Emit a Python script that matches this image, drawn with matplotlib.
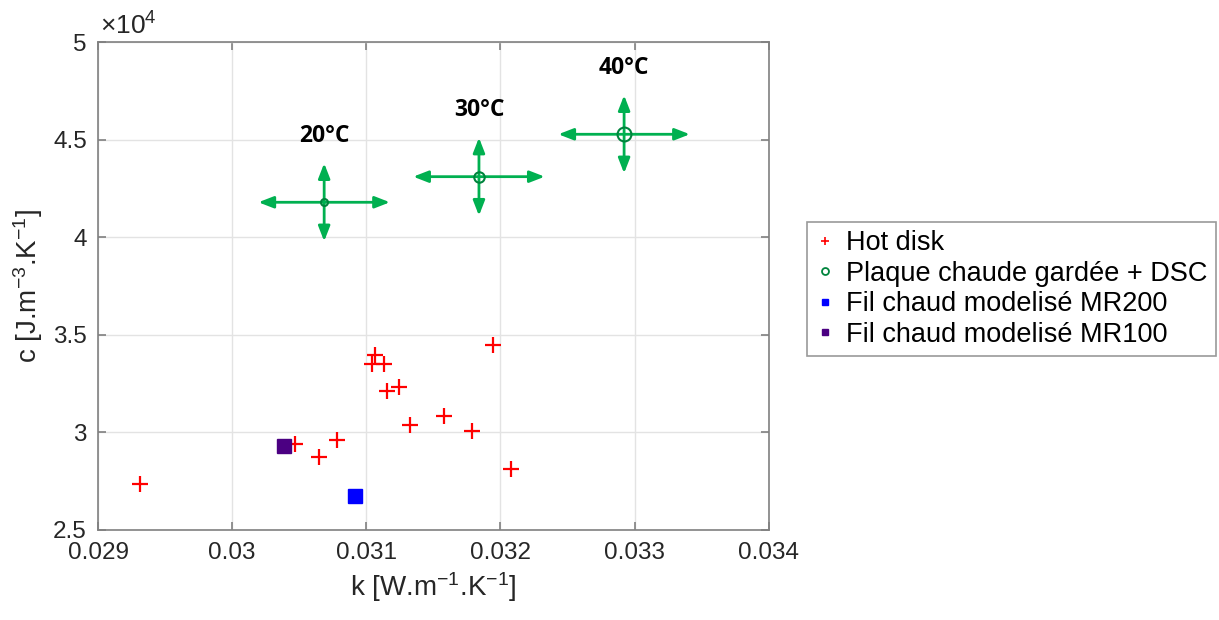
import numpy as np
import matplotlib
matplotlib.use('Agg')
import matplotlib.pyplot as plt
from matplotlib.lines import Line2D

# Hot disk measurements
k_hotdisk = [0.02931, 0.03047, 0.030646, 0.030778, 0.031064, 0.031045, 0.031134,
             0.031152, 0.031243, 0.031328, 0.031577, 0.031791, 0.031948, 0.032079]
c_hotdisk = [27360, 29395, 28760, 29615, 33975, 33500, 33510,
             32115, 32335, 30385, 30860, 30075, 34470, 28130]

# Plaque chaude gardee + DSC
temps = ['20°C', '30°C', '40°C']
k_plaque = [0.030686, 0.031840, 0.032922]
c_plaque = [41805, 43118, 45292]
k_err = [0.00049, 0.00049, 0.00049]
c_err = [2000, 2000, 2000]

# Fil chaud
k_mr200, c_mr200 = [0.030915], [26760]
k_mr100, c_mr100 = [0.030390], [29310]

plt.rcParams['font.family'] = ['Liberation Sans', 'DejaVu Sans']
plt.rcParams['mathtext.fontset'] = 'custom'
plt.rcParams['mathtext.rm'] = 'Liberation Sans'
plt.rcParams['mathtext.it'] = 'Liberation Sans'
plt.rcParams['mathtext.default'] = 'regular'

txt = '#262626'
green = '#00b050'

fig = plt.figure(figsize=(12.19, 6.2), dpi=100)
ax = fig.add_axes([0.0804, 0.1452, 0.5502, 0.7863])

ax.plot(k_hotdisk, c_hotdisk, '+', color='red', markersize=12, markeredgewidth=1.6, zorder=3)
ax.plot(k_mr200, c_mr200, 's', color='blue', markersize=9.5, zorder=3)
ax.plot(k_mr100, c_mr100, 's', color='#4b0082', markersize=9.5, zorder=3)

sizes = [5, 7.5, 10]
arrow = '<|-|>,head_length=0.9,head_width=0.35'
for k, c, dk, dc, s, t in zip(k_plaque, c_plaque, k_err, c_err, sizes, temps):
    ax.annotate('', xy=(k + dk, c), xytext=(k - dk, c),
                arrowprops=dict(arrowstyle=arrow, color=green, lw=2, shrinkA=0, shrinkB=0), zorder=2)
    ax.annotate('', xy=(k, c + dc), xytext=(k, c - dc),
                arrowprops=dict(arrowstyle=arrow, color=green, lw=2, shrinkA=0, shrinkB=0), zorder=2)
    ax.plot(k, c, 'o', mfc='none', mec='#00843d', markersize=s, markeredgewidth=1.5, zorder=4)
    ax.annotate(t, xy=(k, c), xytext=(0, 48), textcoords='offset points',
                ha='center', va='center', fontsize=16.5, fontweight='bold',
                color='black', family=['Open Sans', 'DejaVu Sans'])

ax.set_xlim(0.029, 0.034)
ax.set_ylim(25000, 50000)
ax.set_xticks([0.029, 0.030, 0.031, 0.032, 0.033, 0.034])
ax.set_xticklabels(['0.029', '0.03', '0.031', '0.032', '0.033', '0.034'])
ax.set_yticks(np.arange(25000, 50001, 5000))
ax.set_yticklabels(['2.5', '3', '3.5', '4', '4.5', '5'])
ax.text(0.003, 1.006, r'$\times10^{4}$', transform=ax.transAxes, fontsize=19,
        color=txt, ha='left', va='bottom')

ax.grid(True, color='#e3e3e3', linewidth=1)
ax.set_axisbelow(True)
for sp in ax.spines.values():
    sp.set_color('#808080')
    sp.set_linewidth(1.2)
ax.tick_params(direction='in', top=True, right=True, length=6, width=1.2,
               color='#808080', labelsize=17.5, labelcolor=txt)
ax.tick_params(axis='x', pad=9)
ax.tick_params(axis='y', pad=8)

ax.set_xlabel(r'k [W.m$^{-1}$.K$^{-1}$]', fontsize=20, color=txt, labelpad=4)
ax.set_ylabel(r'c [J.m$^{-3}$.K$^{-1}$]', fontsize=20, color=txt, labelpad=6)

handles = [
    Line2D([], [], ls='none', marker='+', color='red', markersize=6, markeredgewidth=1.2),
    Line2D([], [], ls='none', marker='o', mfc='none', mec='#00843d', markersize=5, markeredgewidth=1.3),
    Line2D([], [], ls='none', marker='s', color='blue', markersize=5),
    Line2D([], [], ls='none', marker='s', color='#4b0082', markersize=5),
]
labels = ['Hot disk', 'Plaque chaude gardée + DSC', 'Fil chaud modelisé MR200', 'Fil chaud modelisé MR100']
leg = fig.legend(handles, labels, loc='upper left', bbox_to_anchor=(807 / 1219, 1 - 222 / 620),
                 fontsize=19.5, frameon=True, fancybox=False, edgecolor='#808080',
                 handlelength=0.7, handletextpad=0.45, labelspacing=0.17, borderpad=0.3,
                 borderaxespad=0)
leg.get_frame().set_linewidth(1.2)
for t in leg.get_texts():
    t.set_color('black')

fig.savefig('out.png', dpi=100)
